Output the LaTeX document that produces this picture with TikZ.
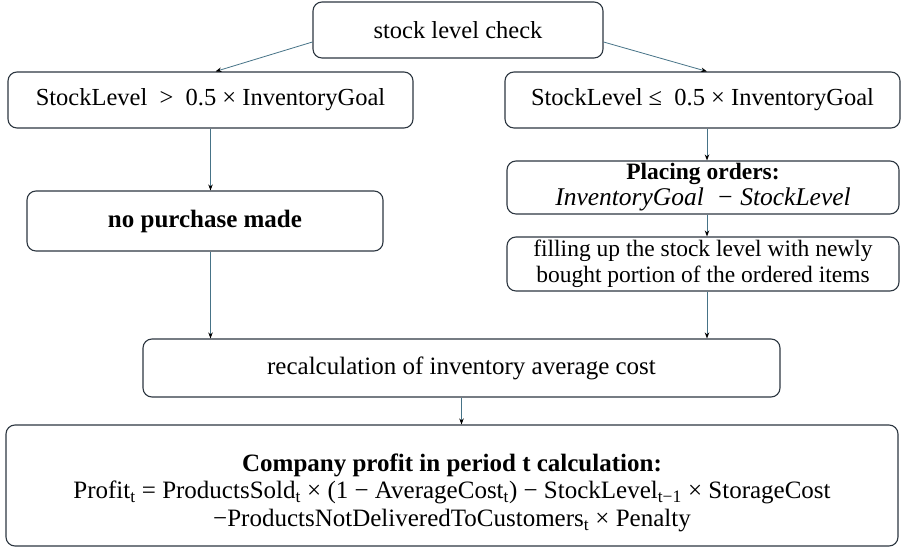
\documentclass[tikz,border=0pt]{standalone}
\usepackage{fontspec}
\setmainfont{Liberation Serif}
\usetikzlibrary{arrows.meta,calc}
\definecolor{boxline}{RGB}{45,55,65}
\definecolor{conn}{RGB}{70,115,135}
\begin{document}
\begin{tikzpicture}[x=1pt,y=1pt,
  box/.style={draw=boxline, line width=1.1pt, rounded corners=9pt, fill=white,
    inner sep=0pt, align=center, font=\fontsize{24.5}{27}\selectfont},
  conn/.style={draw=conn, line width=0.8pt, -{Stealth[length=6pt,width=4.5pt,black]}}]
\fill[white] (0,0) rectangle (902,548);
\useasboundingbox (0,0) rectangle (902,548);

\node[box, minimum width=290, minimum height=56] (top) at (458,518) {stock level check};
\node[box, minimum width=405, minimum height=56] (left) at (210.5,448)
  {StockLevel\ \ >\ \ 0.5 × InventoryGoal};
\node[box, minimum width=395, minimum height=56] (right) at (702.5,448)
  {StockLevel ≤\ \ 0.5 × InventoryGoal};
\node[box, minimum width=356, minimum height=60, font=\fontsize{25}{27}\selectfont] (nopurch) at (205,327)
  {\textbf{no purchase made}};
\node[box, minimum width=392, minimum height=53, font=\fontsize{23.5}{26}\selectfont] (placing) at (703,360.5)
  {\textbf{Placing orders:}\\ {\fontsize{25.5}{26}\selectfont\textit{InventoryGoal\ \ − StockLevel}}};
\node[box, minimum width=392, minimum height=54, font=\fontsize{23.5}{26.5}\selectfont] (filling) at (703,284)
  {filling up the stock level with newly\\ bought portion of the ordered items};
\node[box, minimum width=637, minimum height=58, font=\fontsize{25}{27}\selectfont] (recalc) at (461.5,180)
  {recalculation of inventory average cost};
\node[box, minimum width=892, minimum height=121, font=\fontsize{25}{27.5}\selectfont] (profit) at (452,62.5)
  {\rule{0pt}{32pt}\textbf{Company profit in period t calculation:}\\
   Profit\textsubscript{t} = ProductsSold\textsubscript{t} × (1 − AverageCost\textsubscript{t}) − StockLevel\textsubscript{t−1} × StorageCost\\
   −ProductsNotDeliveredToCustomers\textsubscript{t} × Penalty};

\draw[conn] ([yshift=-12pt]top.west) -- ([xshift=5pt]left.north);
\draw[conn] ([yshift=-12pt]top.east) -- ([xshift=4.5pt]right.north);
\draw[conn] (left.south) -- (left.south |- nopurch.north);
\draw[conn] ([xshift=4.5pt]right.south) -- ([xshift=4.5pt]right.south |- placing.north);
\draw[conn] ([xshift=4.5pt]right.south |- placing.south) -- ([xshift=4.5pt]right.south |- filling.north);
\draw[conn] (left.south |- nopurch.south) -- (left.south |- recalc.north);
\draw[conn] ([xshift=4.5pt]right.south |- filling.south) -- ([xshift=4.5pt]right.south |- recalc.north);
\draw[conn] (recalc.south) -- (recalc.south |- profit.north);
\end{tikzpicture}
\end{document}
